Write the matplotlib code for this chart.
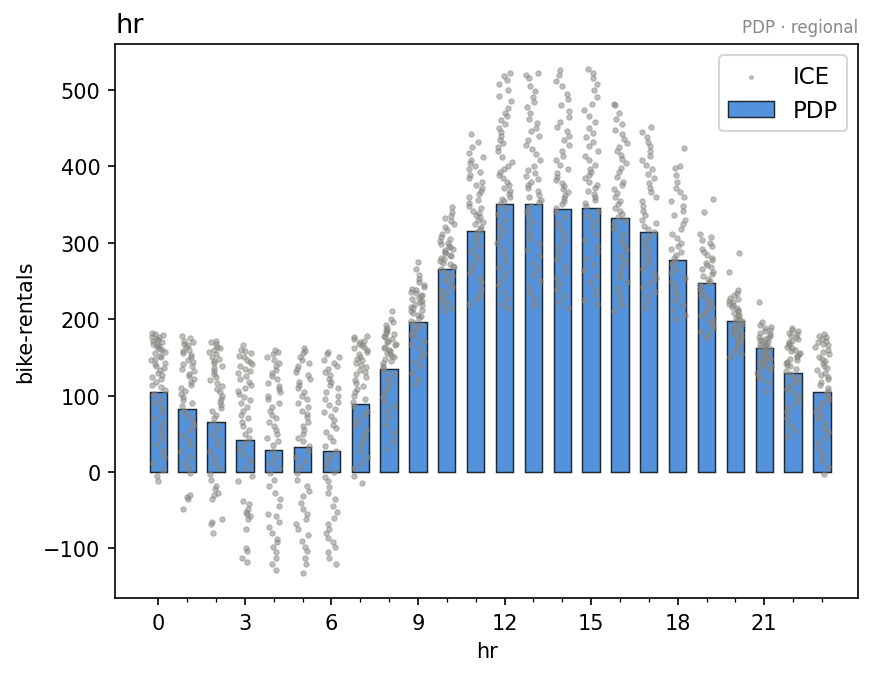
import numpy as np
import matplotlib
matplotlib.use('Agg')
import matplotlib.pyplot as plt
from matplotlib.ticker import FixedLocator

# partial dependence (bar heights) per hour
hours = list(range(24))
pdp = [105, 83, 66, 42, 29, 32, 28, 89, 135, 196, 265, 315,
       351, 351, 344, 345, 332, 314, 277, 247, 197, 162, 129, 104]
major_ticks = [0, 3, 6, 9, 12, 15, 18, 21]

# ICE values, one list per hour
ice_00 = [182, 181, 179, 177, 176, 174, 173, 171, 170, 168, 166, 165, 163, 161, 159, 157, 155, 152, 150, 148, 146, 143, 141, 138, 136, 133, 130, 127, 124, 121, 118, 114, 111, 107, 102, 96, 90, 85, 78, 71, 64, 57, 50, 43, 36, 28, 20, 12, 3, -5, -12]
ice_01 = [178, 175, 172, 170, 168, 166, 163, 160, 158, 155, 153, 150, 147, 144, 141, 138, 135, 132, 128, 125, 121, 118, 114, 110, 106, 102, 98, 94, 90, 86, 80, 74, 68, 62, 55, 48, 42, 35, 28, 20, 12, 5, -2, -30, -33, -35, -48]
ice_02 = [172, 170, 167, 164, 162, 160, 157, 154, 151, 148, 145, 142, 139, 136, 132, 128, 124, 120, 116, 112, 108, 104, 100, 96, 92, 88, 84, 80, 75, 70, 64, 58, 50, 42, 35, 28, 20, 12, 5, -3, -10, -18, -22, -27, -30, -35, -62, -65, -68, -80]
ice_03 = [166, 160, 158, 155, 152, 150, 147, 144, 141, 138, 135, 132, 129, 126, 122, 118, 114, 110, 106, 102, 98, 94, 90, 85, 80, 75, 70, 65, 60, 55, 50, 44, 38, 30, 22, 14, 5, -5, -12, -38, -42, -48, -52, -55, -58, -62, -75, -100, -104, -112, -118]
ice_04 = [160, 157, 154, 150, 146, 142, 138, 134, 130, 126, 121, 116, 112, 108, 104, 100, 95, 90, 85, 80, 75, 70, 65, 60, 55, 50, 45, 40, 35, 28, 20, 12, 5, -2, -10, -18, -28, -35, -45, -55, -58, -65, -72, -80, -88, -92, -98, -105, -112, -120, -128]
ice_05 = [162, 158, 155, 151, 147, 143, 139, 135, 131, 127, 122, 118, 114, 110, 105, 100, 95, 90, 85, 80, 76, 72, 66, 60, 55, 50, 45, 40, 34, 28, 20, 14, 6, -2, -10, -18, -25, -32, -40, -48, -55, -62, -68, -75, -82, -90, -98, -104, -112, -120, -132]
ice_06 = [157, 154, 150, 147, 143, 139, 135, 131, 127, 122, 118, 114, 110, 105, 100, 96, 92, 87, 82, 78, 73, 68, 62, 57, 52, 46, 40, 34, 28, 22, 15, 8, 0, -6, -12, -20, -28, -36, -45, -52, -60, -68, -74, -80, -86, -92, -98, -105, -112, -120]
ice_07 = [178, 176, 174, 172, 170, 168, 166, 164, 162, 159, 157, 154, 151, 148, 146, 143, 140, 137, 134, 131, 128, 124, 120, 116, 112, 108, 104, 100, 96, 92, 86, 80, 74, 68, 62, 55, 48, 42, 35, 28, 20, 12, 5, -5, -15]
ice_08 = [210, 200, 196, 192, 189, 186, 184, 182, 180, 178, 176, 174, 172, 170, 168, 166, 164, 162, 160, 158, 156, 154, 152, 150, 148, 145, 142, 139, 136, 132, 128, 122, 116, 110, 104, 98, 92, 86, 80, 72, 62, 52, 40, 30]
ice_09 = [275, 265, 258, 252, 248, 245, 242, 240, 238, 236, 234, 232, 230, 228, 226, 224, 222, 220, 218, 216, 214, 212, 210, 208, 206, 204, 201, 198, 195, 192, 188, 184, 180, 176, 172, 168, 162, 156, 150, 144, 138, 130, 122, 115]
ice_10 = [347, 340, 335, 332, 328, 325, 320, 316, 312, 308, 305, 302, 300, 298, 296, 294, 292, 290, 288, 286, 284, 282, 280, 278, 276, 274, 272, 270, 268, 265, 262, 258, 254, 250, 246, 242, 238, 234, 230, 226, 222, 218, 214, 210]
ice_11 = [442, 432, 425, 418, 412, 408, 404, 400, 396, 392, 388, 384, 380, 376, 372, 368, 364, 360, 356, 352, 348, 345, 342, 339, 336, 333, 330, 327, 324, 321, 318, 314, 308, 302, 296, 290, 284, 278, 272, 266, 260, 254, 248, 240, 232, 226, 220]
ice_12 = [522, 518, 513, 508, 500, 492, 486, 476, 470, 466, 460, 455, 450, 445, 440, 435, 430, 425, 420, 412, 405, 400, 396, 392, 388, 384, 380, 376, 372, 368, 364, 360, 357, 354, 350, 345, 338, 330, 322, 315, 308, 300, 292, 284, 276, 268, 260, 252, 244, 236, 228, 220, 215]
ice_13 = [522, 520, 515, 505, 498, 490, 484, 478, 470, 462, 456, 450, 446, 440, 434, 428, 422, 416, 408, 400, 395, 391, 387, 383, 379, 375, 371, 367, 363, 360, 356, 353, 348, 342, 336, 328, 320, 312, 305, 298, 290, 282, 274, 266, 258, 250, 242, 234, 226, 218]
ice_14 = [526, 520, 512, 505, 495, 488, 480, 472, 465, 458, 452, 446, 440, 434, 428, 420, 414, 408, 402, 396, 391, 386, 382, 378, 374, 370, 366, 362, 358, 354, 350, 346, 340, 333, 326, 318, 310, 302, 294, 286, 278, 270, 262, 254, 246, 238, 230, 222, 215]
ice_15 = [527, 522, 515, 508, 500, 490, 482, 474, 466, 458, 450, 444, 438, 432, 426, 420, 414, 408, 402, 397, 392, 388, 384, 380, 376, 372, 368, 364, 360, 356, 352, 348, 342, 335, 328, 320, 312, 304, 296, 288, 280, 272, 264, 256, 248, 240, 232, 225, 220]
ice_16 = [482, 480, 470, 462, 455, 448, 442, 436, 430, 425, 420, 415, 410, 404, 398, 392, 386, 380, 375, 370, 365, 360, 355, 350, 346, 342, 338, 334, 330, 325, 318, 311, 304, 297, 290, 283, 276, 269, 262, 255, 248, 241, 234, 226, 218, 210]
ice_17 = [452, 445, 438, 432, 426, 420, 414, 408, 402, 396, 390, 384, 378, 372, 366, 360, 354, 348, 342, 336, 330, 326, 322, 318, 314, 308, 302, 296, 290, 284, 278, 272, 266, 260, 254, 248, 242, 236, 230, 222, 215]
ice_18 = [424, 400, 398, 388, 380, 372, 366, 360, 354, 348, 342, 336, 330, 324, 318, 312, 306, 300, 296, 292, 288, 284, 280, 276, 272, 266, 260, 254, 248, 242, 236, 230, 224, 218, 212, 205, 200]
ice_19 = [357, 340, 312, 308, 304, 300, 296, 292, 288, 284, 280, 277, 274, 271, 268, 265, 262, 259, 256, 253, 250, 247, 244, 240, 236, 232, 228, 224, 220, 216, 212, 208, 204, 200, 196, 192, 188, 184, 180, 175]
ice_20 = [287, 262, 238, 234, 231, 228, 226, 224, 222, 220, 218, 216, 214, 212, 210, 208, 206, 204, 202, 200, 198, 196, 194, 192, 190, 188, 186, 184, 182, 180, 178, 176, 174, 172, 170, 166, 162, 158, 154, 150]
ice_21 = [222, 196, 192, 190, 188, 186, 184, 182, 180, 178, 176, 175, 174, 173, 172, 170, 168, 167, 166, 165, 164, 162, 160, 158, 156, 154, 152, 150, 148, 146, 144, 142, 140, 138, 136, 133, 130, 126, 122, 118, 106]
ice_22 = [189, 186, 184, 182, 180, 178, 176, 174, 172, 170, 168, 166, 164, 162, 160, 158, 156, 154, 152, 150, 148, 146, 144, 142, 140, 138, 135, 132, 128, 124, 120, 116, 112, 108, 104, 100, 95, 90, 85, 78, 70, 62, 55, 47]
ice_23 = [180, 178, 176, 174, 172, 170, 168, 166, 163, 160, 157, 154, 151, 148, 145, 142, 139, 136, 133, 130, 127, 124, 121, 118, 114, 110, 106, 102, 98, 94, 90, 85, 80, 75, 70, 64, 58, 52, 45, 38, 30, 22, 14, 6, -3]

ice_all = [ice_00, ice_01, ice_02, ice_03, ice_04, ice_05, ice_06, ice_07,
           ice_08, ice_09, ice_10, ice_11, ice_12, ice_13, ice_14, ice_15,
           ice_16, ice_17, ice_18, ice_19, ice_20, ice_21, ice_22, ice_23]

fig = plt.figure(figsize=(874 / 150, 678 / 150), dpi=150)
ax = fig.add_axes([0.1316, 0.1165, 0.8501, 0.8171])

ax.bar(hours, pdp, width=0.6, color='#5592dc', edgecolor='#1e2833',
       linewidth=0.7, label='PDP', zorder=2)

# strip-plot style sideways jitter (x only, the values stay as read)
jit = np.random.default_rng(3)
xs, ys = [], []
for h, vals in zip(hours, ice_all):
    xs.extend(h + jit.uniform(-0.25, 0.25, len(vals)))
    ys.extend(vals)
ax.scatter(xs, ys, s=7, color='#878781', alpha=0.55, linewidths=0.4,
           label='ICE', zorder=3)

ax.set_xlim(-1.5, 24.25)
ax.xaxis.set_major_locator(FixedLocator(major_ticks))
ax.xaxis.set_minor_locator(FixedLocator(hours))
ax.set_xlabel('hr')
ax.set_ylabel('bike-rentals')
ax.set_title('hr', loc='left', fontsize=13)
ax.set_title('PDP \u00b7 regional', loc='right', fontsize=8, color='#888888')
ax.legend(loc='upper right', fontsize=11, markerscale=0.7)

fig.savefig('out.png', dpi=150)
